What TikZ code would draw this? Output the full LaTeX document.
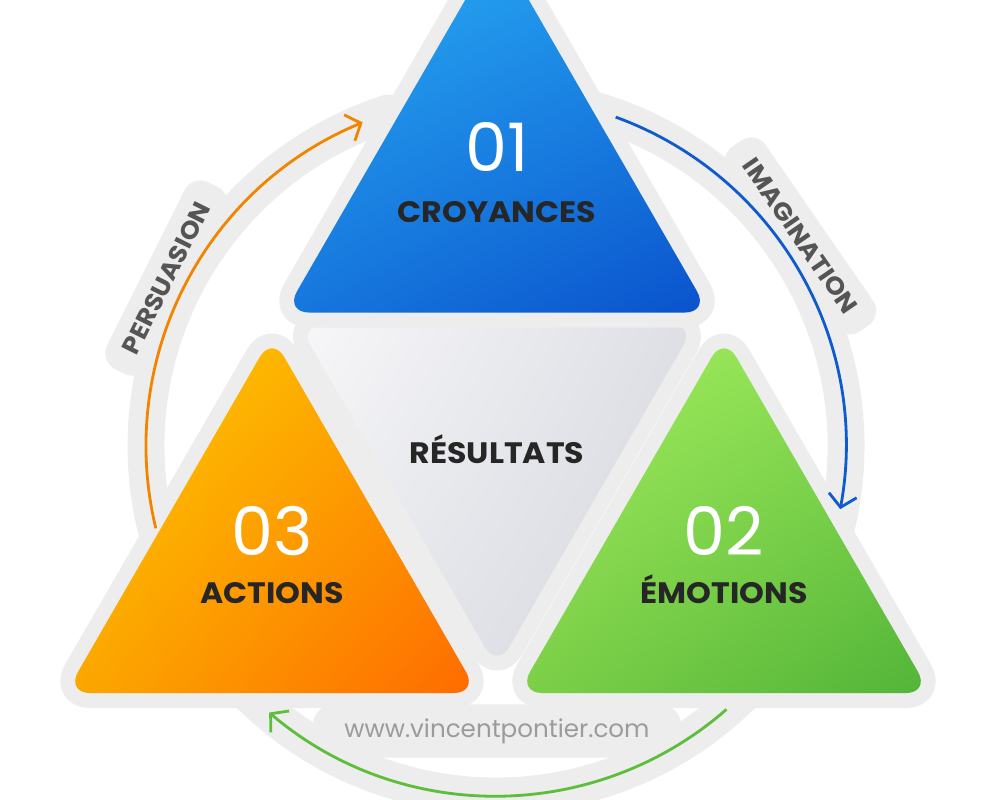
\documentclass[tikz,border=0pt]{standalone}
\usepackage{fontspec}
\setmainfont{Poppins}
\newfontfamily\ttlfont{Poppins}[FakeStretch=1.07]
\usetikzlibrary{shapes.geometric, shadings, positioning, arrows.meta, calc}

\definecolor{haloGray}{HTML}{EDEDED}
\definecolor{tagGray}{HTML}{555555}
\definecolor{inkDark}{HTML}{262626}
\definecolor{urlGray}{HTML}{9B9B9B}
\definecolor{arcOrange}{HTML}{F28500}
\definecolor{arcBlue}{HTML}{0F5ACD}
\definecolor{arcGreen}{HTML}{5DBE3C}
% triangle corner colours
\definecolor{blueUL}{HTML}{2CB0F5}
\definecolor{blueUR}{HTML}{1E93EA}
\definecolor{blueLL}{HTML}{1677DD}
\definecolor{blueLR}{HTML}{0A52CC}
\definecolor{orangeUL}{HTML}{FFD000}
\definecolor{orangeUR}{HTML}{FBA000}
\definecolor{orangeLL}{HTML}{FBA800}
\definecolor{orangeLR}{HTML}{FF6A00}
\definecolor{greenUL}{HTML}{A8F060}
\definecolor{greenUR}{HTML}{88DC50}
\definecolor{greenLL}{HTML}{7CD048}
\definecolor{greenLR}{HTML}{52B438}
\definecolor{grayUL}{HTML}{F7F7F9}
\definecolor{grayUR}{HTML}{DEDFE5}
\definecolor{grayLL}{HTML}{E8E9ED}
\definecolor{grayLR}{HTML}{D5D7DE}

\begin{document}
\begin{tikzpicture}[
    x=0.01cm, y=0.01cm,
    tri/.style={
        regular polygon,
        regular polygon sides=3,
        inner sep=0pt,
        outer sep=0pt,
        rounded corners=7pt,
        preaction={draw=haloGray, line width=8.5pt, line join=round}
    },
    triblue/.style={
        tri, minimum size=4.9cm, shade,
        upper left=blueUL, upper right=blueUR,
        lower left=blueLL, lower right=blueLR
    },
    triorange/.style={
        tri, minimum size=4.76cm, shade,
        upper left=orangeUL, upper right=orangeUR,
        lower left=orangeLL, lower right=orangeLR
    },
    trigreen/.style={
        tri, minimum size=4.76cm, shade,
        upper left=greenUL, upper right=greenUR,
        lower left=greenLL, lower right=greenLR
    },
    trigray/.style={
        tri, minimum size=4.58cm, shape border rotate=180, shade,
        upper left=grayUL, upper right=grayUR,
        lower left=grayLL, lower right=grayLR
    },
    numtxt/.style={anchor=base, text=white, font=\fontsize{19}{19}\selectfont, inner sep=0pt},
    ttltxt/.style={anchor=base, text=inkDark, font=\ttlfont\bfseries\fontsize{8.4}{8.4}\selectfont, inner sep=0pt},
    band/.style={draw=haloGray, line width=10.5pt, line cap=round},
    cycarrow/.style={line width=0.8pt, -{Straight Barb[length=3.5pt, width=8pt]}},
    tagbox/.style={fill=haloGray, rounded corners=5pt, text=tagGray,
        font=\ttlfont\bfseries\fontsize{7}{7}\selectfont, inner xsep=6pt, inner ysep=4pt}
]
    \useasboundingbox (0,0) rectangle (1000,-800);

    % centre of the cycle
    \coordinate (ctr) at (496,-446);

    % grey bands under the cycle arrows
    \draw[band] ($(ctr)+(200:350)$) arc[start angle=200, end angle=108, radius=350];
    \draw[band] ($(ctr)+(74:350)$) arc[start angle=74, end angle=-15, radius=350];
    \draw[band] ($(ctr)+(-44:350)$) arc[start angle=-44, end angle=-136, radius=350];

    % labels on the bands
    \node[tagbox, rotate=63.5] (tagPers) at ($(ctr)+(153:370)$) {PERSUASION};
    \node[tagbox, rotate=-55.4] (tagImag) at ($(ctr)+(34.6:370)$) {IMAGINATION};

    % triangles
    \node[trigray] (triRes) at (497,-439) {};
    \node[triblue] (triCroy) at (497,-190) {};
    \node[triorange] (triAct) at (272,-574) {};
    \node[trigreen] (triEmo) at (724,-574) {};

    % texts
    \node[numtxt] (num01) at ($(triCroy)+(0,19)$) {01};
    \node[ttltxt] (labCroy) at ($(triCroy)+(0,-32)$) {CROYANCES};
    \node[numtxt] (num03) at ($(triAct)+(0,19)$) {03};
    \node[ttltxt] (labAct) at ($(triAct)+(0,-29)$) {ACTIONS};
    \node[numtxt] (num02) at ($(triEmo)+(0,19)$) {02};
    \node[ttltxt] (labEmo) at ($(triEmo)+(0,-29)$) {ÉMOTIONS};
    \node[ttltxt] (labRes) at ($(triRes)+(0,-24)$) {RÉSULTATS};

    \node[fill=haloGray, rounded corners=6pt, text=urlGray, font=\fontsize{7}{7}\selectfont,
        inner xsep=9pt, inner ysep=4pt] (url) at (497,-731) {www.vincentpontier.com};

    % cycle arrows
    \coordinate (persStart) at ($(ctr)+(193.6:350)$);
    \coordinate (imagStart) at ($(ctr)+(70:350)$);
    \coordinate (emoStart) at ($(ctr)+(-48.8:350)$);
    \draw[cycarrow, arcOrange] (persStart) arc[start angle=193.6, end angle=112.4, radius=350];
    \draw[cycarrow, arcBlue] (imagStart) arc[start angle=70, end angle=-10.4, radius=350];
    \draw[cycarrow, arcGreen] (emoStart) arc[start angle=-48.8, end angle=-130.4, radius=350];

\end{tikzpicture}
\end{document}
